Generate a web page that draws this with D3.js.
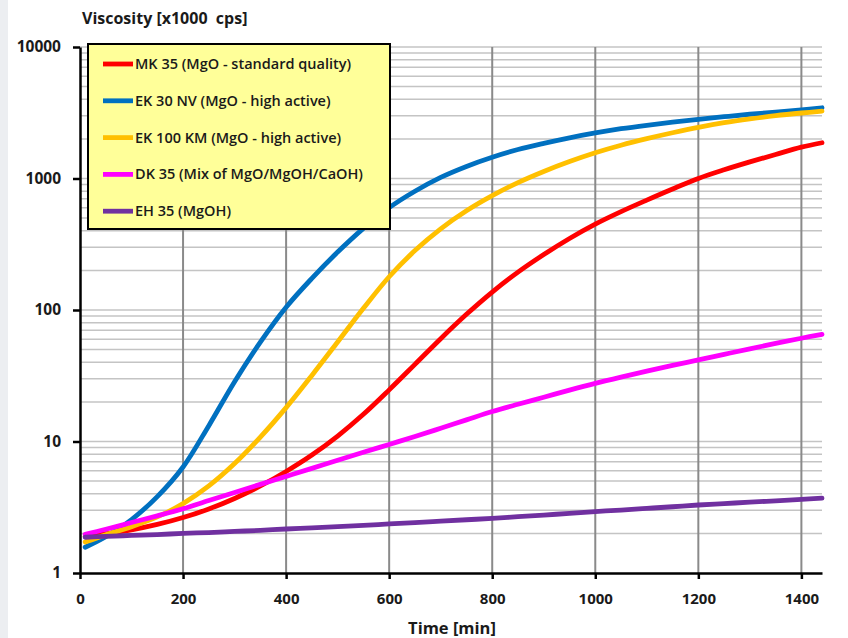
<!DOCTYPE html>
<html>
<head>
<meta charset="utf-8">
<script src="https://cdn.jsdelivr.net/npm/d3@7"></script>
<style>
  body { margin: 0; background: #fff; }
  svg text { font-family: "Open Sans", Lato, sans-serif; font-weight: bold; fill: #1a1a1a; }
</style>
</head>
<body>
<div id="chart"></div>
<script>
// sample times [min]
var times = [10, 50, 100, 150, 200, 250, 300, 350, 400, 450, 500, 550, 600, 650, 700,
  750, 800, 850, 900, 950, 1000, 1050, 1100, 1150, 1200, 1250, 1300, 1350, 1400, 1440];

// viscosity [x1000 cps]
var mk35 = [1.9, 1.99, 2.13, 2.34, 2.64, 3.07, 3.69, 4.59, 5.92, 7.89, 11.0, 16.1, 24.7, 38.6, 60.5,
  92.7, 137, 194, 264, 350, 450, 560, 685, 832, 1000, 1164, 1337, 1524, 1730, 1870];
var ek30 = [1.57, 1.89, 2.55, 3.81, 6.4, 13.2, 28.5, 57, 105, 174, 276, 418, 600, 800, 1020,
  1236, 1452, 1660, 1850, 2040, 2220, 2390, 2540, 2680, 2820, 2950, 3080, 3200, 3330, 3450];
var ek100 = [1.72, 1.95, 2.25, 2.67, 3.37, 4.59, 6.79, 10.8, 18.1, 31.8, 57.1, 103, 179, 283, 414,
  568, 740, 931, 1132, 1346, 1570, 1791, 2009, 2228, 2449, 2655, 2838, 3006, 3148, 3250];
var dk35 = [1.97, 2.15, 2.42, 2.72, 3.08, 3.56, 4.1, 4.72, 5.43, 6.25, 7.2, 8.28, 9.5, 10.9, 12.6,
  14.6, 16.9, 19.2, 21.7, 24.6, 27.7, 30.9, 34.3, 37.9, 41.7, 46.0, 50.7, 55.7, 61, 65.3];
var eh35 = [1.87, 1.9, 1.93, 1.96, 2.0, 2.03, 2.07, 2.11, 2.16, 2.2, 2.25, 2.3, 2.36, 2.42, 2.48,
  2.54, 2.6, 2.68, 2.76, 2.84, 2.93, 3.01, 3.1, 3.19, 3.29, 3.37, 3.46, 3.54, 3.63, 3.71];

var seriesNames = ['MK 35 (MgO - standard quality)', 'EK 30 NV (MgO - high active)',
  'EK 100 KM (MgO - high active)', 'DK 35 (Mix of MgO/MgOH/CaOH)', 'EH 35 (MgOH)'];
var seriesValues = [mk35, ek30, ek100, dk35, eh35];
var seriesColors = ['#ff0000', '#0070c0', '#ffc000', '#ff00ff', '#7030a0'];

var xTicks = [0, 200, 400, 600, 800, 1000, 1200, 1400];
var yTicks = [1, 10, 100, 1000, 10000];

(function(){

  var W = 848, H = 638;
  var x = d3.scaleLinear().domain([0, 1440]).range([80, 822]);
  var y = d3.scaleLog().domain([1, 10000]).range([573, 47]);

  var svg = d3.select('#chart')
    .append('svg')
    .attr('width', W)
    .attr('height', H);

  // grey strip on the left edge
  svg.append('rect')
    .attr('x', 0).attr('y', 0)
    .attr('width', 8).attr('height', H)
    .attr('fill', '#eceef1');

  // minor horizontal grid
  svg.append('g')
    .selectAll('line')
    .data(y.ticks().filter(function(d) {return d > 1;}))
    .enter()
    .append('line')
    .attr('x1', x(0))
    .attr('x2', x(1440))
    .attr('y1', function(d) {return y(d);})
    .attr('y2', function(d) {return y(d);})
    .attr('stroke', '#c4c4c4')
    .attr('stroke-width', 1.5);

  // vertical grid
  svg.append('g')
    .selectAll('line')
    .data(xTicks.filter(function(d) {return d > 0;}))
    .enter()
    .append('line')
    .attr('x1', function(d) {return x(d);})
    .attr('x2', function(d) {return x(d);})
    .attr('y1', y(10000))
    .attr('y2', y(1))
    .attr('stroke', '#8a8a8a')
    .attr('stroke-width', 2);

  // curves
  var line = d3.line()
    .x(function(d) {return x(d[0]);})
    .y(function(d) {return y(d[1]);})
    .curve(d3.curveCatmullRom.alpha(0.5));

  svg.append('g')
    .selectAll('path')
    .data(seriesValues)
    .enter()
    .append('path')
    .attr('d', function(vals) {return line(times.map(function(t, i) {return [t, vals[i]];}));})
    .attr('fill', 'none')
    .attr('stroke', function(d, i) {return seriesColors[i];})
    .attr('stroke-width', 4.8)
    .attr('stroke-linecap', 'round');

  // axes
  var yAxis = svg.append('g')
    .attr('transform', 'translate(' + x(0) + ',0)')
    .call(d3.axisLeft(y).tickValues(yTicks).tickFormat(d3.format('d')).tickSize(7).tickSizeOuter(0).tickPadding(12));

  var xAxis = svg.append('g')
    .attr('transform', 'translate(0,' + y(1) + ')')
    .call(d3.axisBottom(x).tickValues(xTicks).tickFormat(d3.format('d')).tickSize(6).tickSizeOuter(0).tickPadding(14));

  [yAxis, xAxis].forEach(function(a) {
    a.select('.domain').attr('stroke', '#000').attr('stroke-width', 2.5);
    a.selectAll('.tick line').attr('stroke', '#000').attr('stroke-width', 2.5);
    a.selectAll('.tick text').attr('fill', '#1a1a1a');
  });
  yAxis.selectAll('.tick text').style('font-size', '15.5px');
  xAxis.selectAll('.tick text').style('font-size', '15px');

  svg.append('text')
    .attr('x', 82)
    .attr('y', 24)
    .style('font-size', '16px')
    .style('white-space', 'pre')
    .text('Viscosity [x1000  cps]');

  svg.append('text')
    .attr('x', 452)
    .attr('y', 634)
    .attr('text-anchor', 'middle')
    .style('font-size', '16.5px')
    .text('Time [min]');

  // legend
  var legend = svg.append('g');
  legend.append('rect')
    .attr('x', 88).attr('y', 44)
    .attr('width', 302).attr('height', 185)
    .attr('fill', '#ffff99')
    .attr('stroke', '#000')
    .attr('stroke-width', 2);

  var rows = legend.selectAll('g.row')
    .data(seriesNames)
    .enter()
    .append('g')
    .attr('class', 'row')
    .attr('transform', function(d, i) {return 'translate(103,' + (64 + i * 36.8) + ')';});

  rows.append('line')
    .attr('x1', 0).attr('x2', 30)
    .attr('stroke', function(d, i) {return seriesColors[i];})
    .attr('stroke-width', 4.8);

  rows.append('text')
    .attr('x', 32)
    .attr('dy', '0.35em')
    .style('font-size', '14.5px')
    .style('font-weight', 600)
    .text(function(d) {return d;});

})();
</script>
</body>
</html>
